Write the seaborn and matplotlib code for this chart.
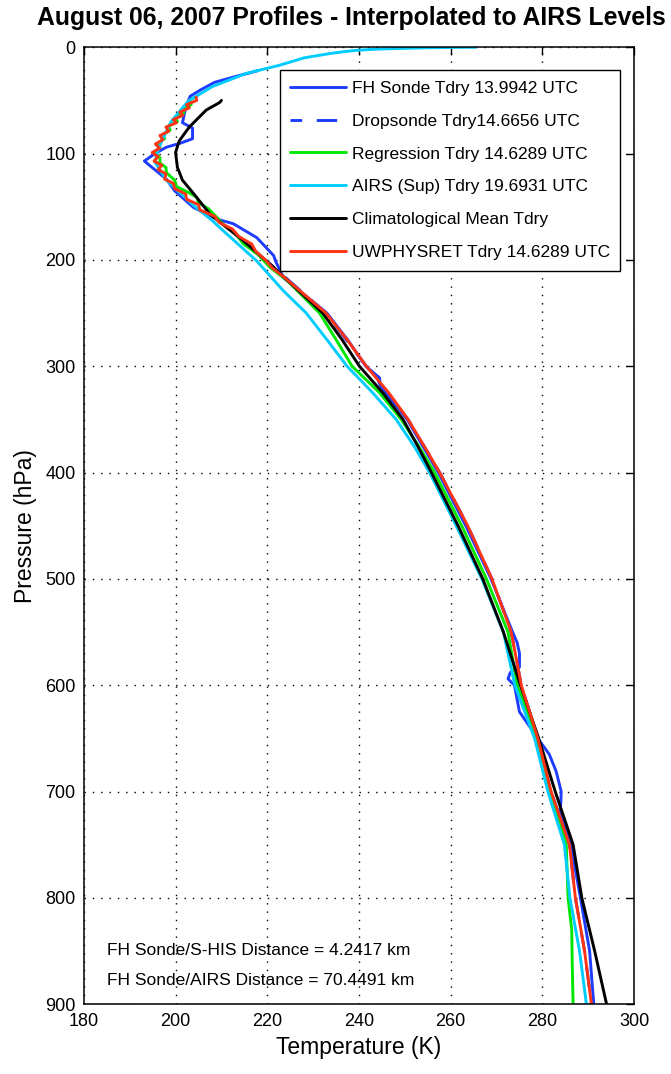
import matplotlib
matplotlib.use("Agg")
import matplotlib.pyplot as plt
import seaborn as sns
import pandas as pd

# ---------------- data ----------------
# FH Sonde Tdry
sonde_p = [22, 27, 33, 40, 46, 55, 71, 76, 86, 90, 94, 100, 107, 111, 124, 135, 150.6,
           161.6, 166, 179, 196, 201, 216.7, 250, 275, 300, 311, 318, 350, 400, 451, 500,
           550, 560, 570, 583, 588, 594, 600, 625, 650, 665, 681, 700, 712, 720, 750, 800,
           850, 900]
sonde_t = [218.0, 213.5, 208.5, 205.5, 203.2, 202.3, 201.5, 203.7, 203.7, 201.2, 198.0,
           195.5, 193.2, 194.3, 198.0, 199.8, 203.9, 209.0, 212.6, 217.7, 221.4, 221.8,
           223.5, 233.0, 237.5, 241.5, 244.5, 244.6, 250.5, 257.3, 263.4, 268.8, 273.5,
           274.5, 275.0, 275.0, 273.0, 272.5, 273.9, 275.0, 279.0, 281.5, 283.0, 284.1,
           284.0, 283.8, 286.2, 288.3, 290.3, 291.2]

# Dropsonde Tdry (largely hidden under the other profiles)
drop_p = [200, 250, 300, 350, 400, 450, 500, 550, 600, 650, 700, 750, 800, 850, 900]
drop_t = [219.6, 232.8, 241.6, 250.7, 257.6, 263.7, 269.0, 273.2, 275.4, 279.0, 281.9,
          285.9, 287.2, 289.2, 290.7]

# Regression Tdry
reg_p = [47, 50, 54, 58, 62, 66, 70, 74, 78, 82, 86, 90, 94, 99, 104, 109, 113, 118, 125,
         131, 137, 141, 146, 152, 160, 167, 175, 185, 195, 207, 220, 250, 275, 300, 325,
         350, 375, 400, 450, 500, 550, 600, 650, 700, 750, 800, 830, 860, 900]
reg_t = [204.2, 203.0, 203.4, 201.6, 201.8, 199.9, 200.4, 198.5, 198.8, 197.3, 197.6,
         196.3, 196.6, 195.6, 196.6, 196.6, 197.9, 198.0, 199.8, 200.2, 203.0, 204.6,
         205.0, 207.2, 209.0, 210.5, 213.0, 214.8, 218.0, 220.6, 224.5, 231.4, 235.0,
         238.5, 244.5, 249.2, 253.0, 256.5, 262.4, 267.8, 272.5, 274.5, 278.8, 281.8,
         285.2, 285.6, 286.4, 286.5, 286.7]

# AIRS (Sup) Tdry
airs_p = [0.005, 0.1, 0.5, 1.0, 1.7, 2.7, 4.0, 6.0, 10, 17, 24.6, 37, 50, 53, 70, 88, 99,
          108, 125, 149, 163, 172.6, 201, 229, 250, 275, 300, 325, 350, 375, 400, 450,
          500, 550, 600, 650, 700, 750, 800, 850, 900]
airs_t = [265.5, 262.0, 255.0, 250.0, 244.0, 240.0, 237.0, 233.5, 228.0, 222.6, 215.4,
          208.0, 203.0, 202.3, 199.0, 197.0, 196.0, 195.5, 198.0, 204.0, 208.0, 210.4,
          217.7, 223.5, 228.5, 233.0, 237.4, 243.0, 248.1, 252.0, 255.4, 261.2, 266.8,
          271.5, 274.0, 278.3, 281.2, 284.8, 286.0, 288.1, 289.6]

# Climatological Mean Tdry
clim_p = [50, 52, 59, 75, 88, 99, 113, 125, 138, 157, 182, 204, 250, 275, 300, 325, 350,
          375, 400, 450, 500, 550, 600, 650, 700, 750, 800, 850, 900]
clim_t = [210.0, 209.6, 206.7, 203.0, 200.8, 200.0, 200.4, 201.5, 204.0, 207.5, 214.8,
          220.6, 232.1, 236.3, 240.1, 245.2, 249.6, 252.8, 255.8, 261.6, 267.0, 271.5,
          275.2, 279.2, 282.8, 286.7, 288.6, 291.4, 294.0]

# UWPHYSRET Tdry
uw_p = [47, 50, 54, 57, 61, 64, 68, 71, 75, 79, 83, 87, 91, 95, 99, 103, 107, 111, 115,
        119, 124, 128, 133, 138, 143, 148, 153, 159, 165, 171, 178, 185, 192, 200, 208,
        216, 250, 275, 300, 325, 350, 375, 400, 450, 500, 550, 600, 650, 700, 750, 800,
        850, 900]
uw_t = [204.5, 204.6, 202.4, 203.0, 200.9, 201.6, 199.5, 200.2, 197.9, 198.5, 196.6,
        197.2, 195.6, 196.5, 194.9, 196.2, 195.3, 197.0, 196.2, 197.9, 197.6, 199.5,
        199.8, 202.2, 202.4, 205.0, 205.3, 208.5, 209.6, 212.4, 213.8, 216.6, 217.5,
        219.6, 221.2, 223.6, 232.8, 237.4, 241.6, 246.5, 250.7, 254.2, 257.6, 263.7,
        269.0, 273.2, 275.4, 279.0, 281.9, 285.9, 287.2, 289.2, 290.7]

series_labels = ["FH Sonde Tdry 13.9942 UTC", "Dropsonde Tdry14.6656 UTC",
                 "Regression Tdry 14.6289 UTC", "AIRS (Sup) Tdry 19.6931 UTC",
                 "Climatological Mean Tdry", "UWPHYSRET Tdry 14.6289 UTC"]

x_ticks = [180, 200, 220, 240, 260, 280, 300]
y_ticks = [0, 100, 200, 300, 400, 500, 600, 700, 800, 900]

title = "August 06, 2007 Profiles - Interpolated to AIRS Levels"
notes = ["FH Sonde/S-HIS Distance = 4.2417 km", "FH Sonde/AIRS Distance = 70.4491 km"]

# ---------------- plotting ----------------
sns.set_theme(style="white")
plt.rcParams["font.family"] = ["Liberation Sans", "DejaVu Sans"]
plt.rcParams["text.color"] = "black"
plt.rcParams["axes.labelcolor"] = "black"

fig = plt.figure(figsize=(6.71, 10.74), dpi=100)
ax = fig.add_axes([0.125, 0.065, 0.82, 0.891])

styles = [
    (sonde_p, sonde_t, "#1e3cff", "-"),
    (drop_p, drop_t, "#1e3cff", (3, (7, 5))),
    (reg_p, reg_t, "#00e600", "-"),
    (airs_p, airs_t, "#00ccff", "-"),
    (clim_p, clim_t, "#000000", "-"),
    (uw_p, uw_t, "#ff3414", "-"),
]
for (p, t, c, ls), lab in zip(styles, series_labels):
    df = pd.DataFrame({"T": t, "P": p})
    sns.lineplot(data=df, x="T", y="P", sort=False, estimator=None, ax=ax,
                 color=c, linestyle=ls, linewidth=2.1, label=lab)

ax.set_xlim(180, 300)
ax.set_ylim(900, 0)
ax.set_xticks(x_ticks)
ax.set_yticks(y_ticks)
ax.grid(True, color="black", linestyle=(0, (1, 5)), linewidth=1.0)
for s in ax.spines.values():
    s.set_color("black")
    s.set_linewidth(1.1)
ax.tick_params(direction="in", length=6, width=1.0, top=True, right=True,
               labelsize=13, colors="black", pad=6)
ax.set_xlabel("Temperature (K)", fontsize=16.5, labelpad=5)
ax.set_ylabel("Pressure (hPa)", fontsize=16.5, labelpad=6)

fig.text(0.523, 0.983, title, ha="center", va="center", fontsize=17.8,
         fontweight="bold")

for i, n in enumerate(notes):
    ax.text(0.042, 0.056 - i * 0.031, n, transform=ax.transAxes, ha="left",
            va="center", fontsize=12.5)

leg = ax.legend(loc="upper right", bbox_to_anchor=(0.975, 0.976), fontsize=12.5,
                frameon=True, fancybox=False, edgecolor="black", framealpha=1,
                handlelength=3.2, labelspacing=1.02, borderpad=0.6, handletextpad=0.35,
                borderaxespad=0.0)
leg.get_frame().set_linewidth(1.0)

fig.savefig("out.png", dpi=100, facecolor="white")
